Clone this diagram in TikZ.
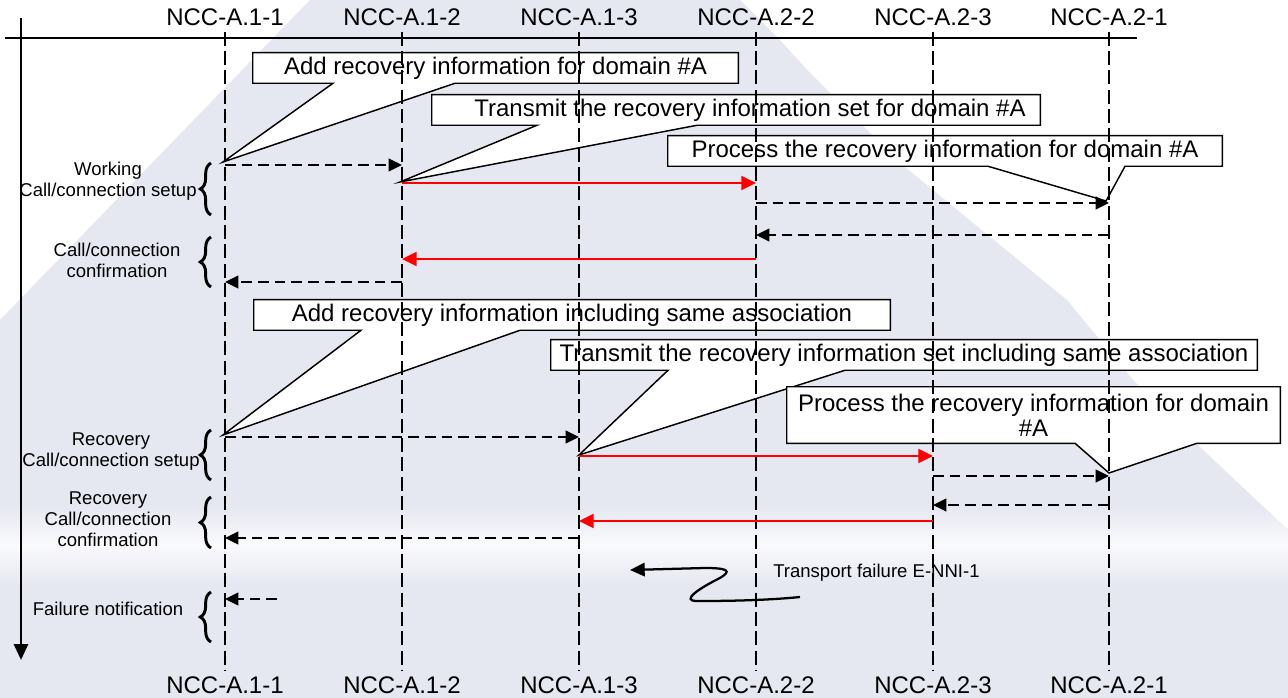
\documentclass[tikz,border=0pt]{standalone}
\usepackage{fontspec}
\setmainfont{Liberation Sans}
\usetikzlibrary{arrows.meta,decorations.pathreplacing}
\pgfdeclarelayer{bg}
\pgfdeclarelayer{callouts}
\pgfsetlayers{bg,callouts,main}
\definecolor{lav}{RGB}{229,231,241}
\definecolor{msgred}{RGB}{255,0,0}

\begin{document}
\begin{tikzpicture}[x=0.75pt,y=-0.75pt,
  big/.style={font=\fontsize{18}{21}\selectfont},
  small/.style={font=\fontsize{13.9}{15.75}\selectfont, align=center, inner sep=0pt},
  ncc/.style={big, inner sep=4pt},
  lifeline/.style={line width=1.4pt, dash pattern=on 10.5pt off 4pt},
  msgd/.style={line width=1.7pt, dash pattern=on 8pt off 4.5pt, -{Triangle[length=10pt,width=9.5pt]}},
  msgr/.style={line width=1.7pt, draw=msgred, -{Triangle[length=11pt,width=10.5pt]}},
  calltext/.style={big, inner sep=0pt},
  callshape/.style={fill=white, draw=black, line width=1.1pt, line join=miter},
  grpbrace/.style={decorate, decoration={brace, amplitude=8pt}, line width=2.2pt},
]
\useasboundingbox (0,0) rectangle (1288,698);

% background
\begin{pgfonlayer}{bg}
  \fill[white] (0,0) rectangle (1288,698);
  \begin{scope}
    \clip (310,0) -- (740,0) -- (780,40) -- (810,73) -- (900,163) -- (1067,300)
      -- (1133,380) -- (1200,447) -- (1288,530) -- (1288,698) -- (0,698) -- (0,320) -- cycle;
    \fill[lav] (0,0) rectangle (1288,698);
    \shade[top color=lav, bottom color=lav, middle color=white!80!lav] (0,505) rectangle (1288,585);
  \end{scope}
\end{pgfonlayer}

% time axis and header line
\draw[line width=2.2pt, -{Triangle[length=12pt,width=10.5pt]}] (21,18) -- (21,660);
\draw[line width=1.5pt] (5,38) -- (1137,38);

% NCC labels
\foreach \i/\x/\name in {1/225/NCC-A.1-1, 2/402/NCC-A.1-2, 3/579/NCC-A.1-3,
                         4/756/NCC-A.2-2, 5/933/NCC-A.2-3, 6/1109/NCC-A.2-1}{
  \node[ncc, anchor=base] (t\i) at (\x,26) {\name};
  \node[ncc, anchor=base] (b\i) at (\x,693) {\name};
}

% callout boxes
\node[calltext, minimum width=363.75pt, minimum height=22.5pt] (c1) at (495.5,68) {Add recovery information for domain \#A};
\node[calltext, minimum width=456pt, minimum height=22.5pt] (c2) at (736,110) {\hspace*{21pt}Transmit the recovery information set for domain \#A};
\node[calltext, minimum width=415.5pt, minimum height=22.5pt] (c3) at (945,151) {Process the recovery information for domain \#A};
\node[calltext, minimum width=477pt, minimum height=22.5pt] (c4) at (572,315) {Add recovery information including same association};
\node[calltext, minimum width=529.5pt, minimum height=22.5pt] (c5) at (904,355) {Transmit the recovery information set including same association};
\node[calltext, minimum width=369.75pt, minimum height=42pt, align=center, font=\fontsize{18}{18.75}\selectfont] (c6) at (1033.5,415) {Process the recovery information for domain\\\#A};

\coordinate (tip1) at (223,162);
\coordinate (tip2) at (400,182);
\coordinate (tip3) at (1106,201);
\coordinate (tip4) at (223,435);
\coordinate (tip5) at (579,455);
\coordinate (tip6) at (1109,473);

\begin{pgfonlayer}{callouts}
  \foreach \c/\l/\r in {1/333/455, 2/537/697, 3/988/1125, 4/361/520, 5/668/845, 6/1075/1197}{
    \draw[callshape] (c\c.north west) -- (c\c.north east) -- (c\c.south east)
      -- (c\c.south -| \r,0) -- (tip\c) -- (c\c.south -| \l,0) -- (c\c.south west) -- cycle;
  }
\end{pgfonlayer}

% lifelines
\foreach \i in {1,...,6}{
  \draw[lifeline] (t\i.south) -- (b\i.north);
}

% working call/connection setup
\draw[msgd] (t1 |- 0,165) -- (t2 |- 0,165);
\draw[msgr] (t2 |- 0,183) -- (t4 |- 0,183);
\draw[msgd] (t4 |- 0,203) -- (t6 |- 0,203);
% confirmation
\draw[msgd] (t6 |- 0,235) -- (t4 |- 0,235);
\draw[msgr] (t4 |- 0,259) -- (t2 |- 0,259);
\draw[msgd] (t2 |- 0,282) -- (t1 |- 0,282);
% recovery setup
\draw[msgd] (t1 |- 0,437) -- (t3 |- 0,437);
\draw[msgr] (t3 |- 0,456) -- (t5 |- 0,456);
\draw[msgd] (t5 |- 0,476) -- (t6 |- 0,476);
% recovery confirmation
\draw[msgd] (t6 |- 0,505) -- (t5 |- 0,505);
\draw[msgr] (t5 |- 0,521) -- (t3 |- 0,521);
\draw[msgd] (t3 |- 0,538) -- (t1 |- 0,538);
% failure notification
\coordinate (fn) at (277,599);
\draw[msgd] (fn) -- (t1 |- fn);

% phase braces and labels
\draw[grpbrace] (211,215) -- (211,163);
\draw[grpbrace] (211,287) -- (211,237);
\draw[grpbrace] (211,480) -- (211,430);
\draw[grpbrace] (211,548) -- (211,497);
\draw[grpbrace] (211,642) -- (211,592);

% (base anchor of a multi-line node sits on its last line)
\node[small, anchor=base] (g1) at (108,197) {Working\\Call/connection setup};
\node[small, anchor=base] (g2) at (117,278) {Call/connection\\confirmation};
\node[small, anchor=base] (g3) at (111,466) {Recovery\\Call/connection setup};
\node[small, anchor=base] (g4) at (108,546) {Recovery\\Call/connection\\confirmation};
\node[small, anchor=base] (g5) at (108,615) {Failure notification};

% transport failure
\node[small, anchor=base west] (tf) at (773,577) {Transport failure E-NNI-1};
\coordinate (fs) at (800,597);
\coordinate (ft) at (630,570);
\draw[line width=1.7pt, -{Triangle[length=11pt,width=10pt]}]
  (fs) .. controls (760,601) and (715,601) .. (697,601)
  .. controls (680,601) and (700,588) .. (718,579)
  .. controls (735,570) and (725,568) .. (705,568) -- (ft);
\end{tikzpicture}
\end{document}
